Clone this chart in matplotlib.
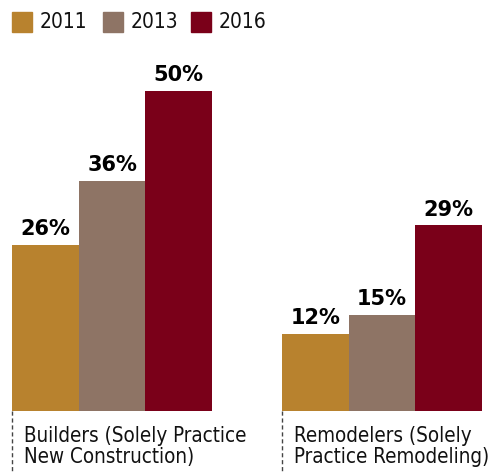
import matplotlib.pyplot as plt

years = ['2011', '2013', '2016']
colors = ['#B8822E', '#8E7465', '#7A0019']
groups = ['Builders (Solely Practice\nNew Construction)', 'Remodelers (Solely\nPractice Remodeling)']
builders = [26, 36, 50]
remodelers = [12, 15, 29]

narrow = dict(family='DejaVu Sans', stretch='condensed')

W, H = 489, 472
fig = plt.figure(figsize=(W / 100, H / 100), dpi=100)
# axes: bottom at y=411px, 6.4 px per percent
bottom_px = 411
ax = fig.add_axes([0, (H - bottom_px) / H, 1, 384 / H])
ax.set_ylim(0, 60)
unit = 66.7
ax.set_xlim(0, W / unit)
ax.axis('off')

starts = [12 / unit, 282 / unit]
for start, vals in zip(starts, [builders, remodelers]):
    for i, v in enumerate(vals):
        x = start + i + 0.5
        ax.bar(x, v, width=1.0, color=colors[i], linewidth=0)
        ax.text(x, v + 0.9, f'{v}%', ha='center', va='bottom',
                fontsize=15, fontweight='heavy', family='DejaVu Sans')

# dashed leader lines and group labels
for start, label in zip(starts, groups):
    ax.plot([start, start], [0, -61 / 6.4], color='#444444', lw=1,
            ls=(0, (3, 2)), clip_on=False)
    ax.text(start + 12 / unit, -15 / 6.4, label, ha='left', va='top',
            fontsize=14.8, linespacing=1.08, color='#111111', **narrow)

# legend
lx = [12, 103, 191]
for x0, c, yr in zip(lx, colors, years):
    fig.patches.append(plt.Rectangle((x0 / W, 1 - 32 / H), 20 / W, 20 / H,
                                     transform=fig.transFigure, color=c))
    fig.text((x0 + 28) / W, 1 - 22 / H, yr, ha='left', va='center',
             fontsize=15, color='#111111', **narrow)

fig.savefig('out.png', dpi=100)
